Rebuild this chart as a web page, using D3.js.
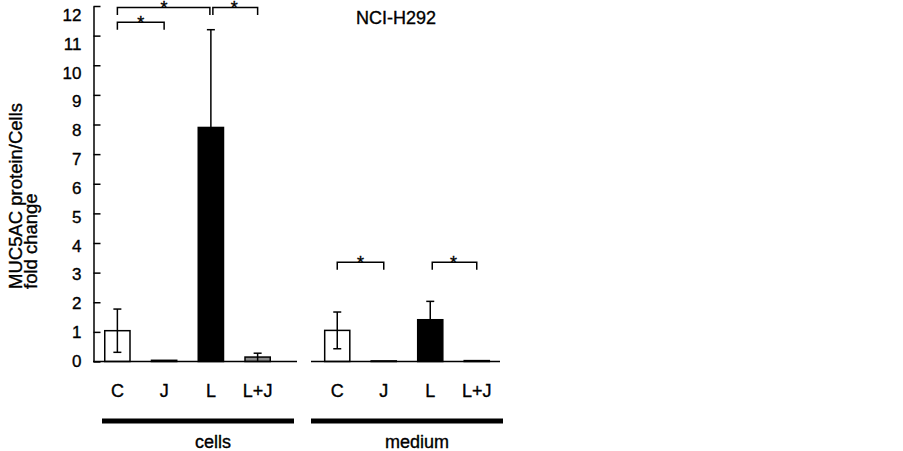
<!DOCTYPE html>
<html>
<head>
<meta charset="utf-8">
<script src="https://cdn.jsdelivr.net/npm/d3@7"></script>
<style>
  body { margin: 0; background: #fff; }
  svg { font-family: "Liberation Sans", Arial, sans-serif; }
  svg text { stroke: #000; stroke-width: 0.35px; }
</style>
</head>
<body>
<svg id="chart"></svg>
<script>
const categories = ["C", "J", "L", "L+J"];
const groups = ["cells", "medium"];
const cellsMean = [1.04, 0.04, 7.9, 0.15];
const cellsErr = [0.73, 0.0, 3.3, 0.13];
const mediumMean = [1.05, 0.02, 1.41, 0.03];
const mediumErr = [0.62, 0.0, 0.62, 0.0];
const barFills = ["#fff", "#777", "#000", "#8c8c8c"];
const yTicks = [0, 1, 2, 3, 4, 5, 6, 7, 8, 9, 10, 11, 12];
// significance brackets: group, from, to, level (fold change)
const brackets = [
  { group: "cells", from: "C", to: "J", level: 11.45 },
  { group: "cells", from: "C", to: "L", level: 11.95 },
  { group: "cells", from: "L", to: "L+J", level: 11.95 },
  { group: "medium", from: "C", to: "J", level: 3.35 },
  { group: "medium", from: "L", to: "L+J", level: 3.35 },
];

const width = 903;
const height = 451;

const svg = d3.select("#chart").attr("width", width).attr("height", height);

const yScale = d3.scaleLinear().domain([0, 12]).range([361.5, 6]);
// labels in the source sit on a slightly tighter spacing than the ticks
const yLabelScale = d3.scaleLinear().domain([0, 12]).range([361, 15]);

const panels = [
  { name: "cells", range: [94, 281], base: [93, 297], rule: [102, 294], mean: cellsMean, err: cellsErr, labelX: 213 },
  { name: "medium", range: [314, 500], base: [311, 500], rule: [311, 503], mean: mediumMean, err: mediumErr, labelX: 417 },
];

panels.forEach((p) => {
  p.x = d3.scaleBand().domain(categories).range(p.range).paddingInner(0.46).paddingOuter(0.23);
});

// y axis
svg.append("g")
  .attr("transform", "translate(93.5,0)")
  .call(d3.axisRight(yScale).tickValues(yTicks).tickSize(7).tickSizeOuter(0).tickFormat(""))
  .call((g) => g.selectAll("path, line").attr("stroke", "#000").attr("stroke-width", 1.5));

svg.append("g")
  .attr("transform", "translate(93.5,0)")
  .call(d3.axisLeft(yLabelScale).tickValues(yTicks).tickSize(0).tickPadding(12).tickFormat(d3.format("d")))
  .call((g) => g.select(".domain").remove())
  .call((g) => g.selectAll("text").attr("font-size", 17).attr("fill", "#000").attr("font-family", "Liberation Sans, Arial, sans-serif"));

// y title
const yTitle = ["MUC5AC protein/Cells", "fold change"];
svg.selectAll(".ytitle")
  .data(yTitle)
  .enter()
  .append("text")
  .attr("class", "ytitle")
  .attr("transform", (d, i) => `translate(${22 + i * 15},289) rotate(-90)`)
  .attr("font-size", 18.5)
  .attr("fill", "#000")
  .text((d) => d);

panels.forEach((p) => {
  const g = svg.append("g");
  const rows = categories.map((c, i) => ({ cat: c, mean: p.mean[i], err: p.err[i], fill: barFills[i] }));

  // bars
  g.selectAll("rect")
    .data(rows)
    .enter()
    .append("rect")
    .attr("x", (d) => p.x(d.cat))
    .attr("width", p.x.bandwidth())
    .attr("y", (d) => yScale(d.mean))
    .attr("height", (d) => yScale(0) - yScale(d.mean))
    .attr("fill", (d) => d.fill)
    .attr("stroke", "#000")
    .attr("stroke-width", 1.5);

  // error bars
  const eb = rows.filter((d) => d.err > 0);
  const cx = (d) => p.x(d.cat) + p.x.bandwidth() / 2;
  g.selectAll(".err")
    .data(eb)
    .enter()
    .append("line")
    .attr("x1", cx).attr("x2", cx)
    .attr("y1", (d) => yScale(Math.max(0, d.mean - d.err)))
    .attr("y2", (d) => yScale(d.mean + d.err))
    .attr("stroke", "#000").attr("stroke-width", 1.5);
  g.selectAll(".capTop")
    .data(eb)
    .enter()
    .append("line")
    .attr("x1", (d) => cx(d) - 4).attr("x2", (d) => cx(d) + 4)
    .attr("y1", (d) => yScale(d.mean + d.err))
    .attr("y2", (d) => yScale(d.mean + d.err))
    .attr("stroke", "#000").attr("stroke-width", 1.5);
  g.selectAll(".capBot")
    .data(eb.filter((d) => d.mean - d.err > 0.05))
    .enter()
    .append("line")
    .attr("x1", (d) => cx(d) - 4).attr("x2", (d) => cx(d) + 4)
    .attr("y1", (d) => yScale(d.mean - d.err))
    .attr("y2", (d) => yScale(d.mean - d.err))
    .attr("stroke", "#000").attr("stroke-width", 1.5);

  // baseline
  g.append("line")
    .attr("x1", p.base[0]).attr("x2", p.base[1])
    .attr("y1", yScale(0)).attr("y2", yScale(0))
    .attr("stroke", "#000").attr("stroke-width", 1.5);

  // category labels
  g.append("g")
    .attr("transform", `translate(0,${yScale(0)})`)
    .call(d3.axisBottom(p.x).tickSize(0).tickPadding(23))
    .call((a) => a.select(".domain").remove())
    .call((a) => a.selectAll("text").attr("font-size", 18).attr("fill", "#000").attr("font-family", "Liberation Sans, Arial, sans-serif"));

  // group rule and label
  g.append("line")
    .attr("x1", p.rule[0]).attr("x2", p.rule[1])
    .attr("y1", 421).attr("y2", 421)
    .attr("stroke", "#000").attr("stroke-width", 5);
  g.append("text")
    .attr("x", p.labelX).attr("y", 448)
    .attr("text-anchor", "middle")
    .attr("font-size", 18)
    .text(p.name);

  // brackets
  const bs = brackets.filter((b) => b.group === p.name);
  const bx = (c) => p.x(c) + p.x.bandwidth() / 2;
  g.selectAll(".bracket")
    .data(bs)
    .enter()
    .append("path")
    .attr("fill", "none")
    .attr("stroke", "#000")
    .attr("stroke-width", 1.5)
    .attr("d", (b) => {
      const x1 = bx(b.from) + (b.from === "L" ? 2 : 0);
      const x2 = bx(b.to) - (b.to === "L" ? 1 : 0);
      const y0 = yScale(b.level);
      const y1 = yScale(b.level - 0.25);
      return `M${x1},${y1}V${y0}H${x2}V${y1}`;
    });
  g.selectAll(".star")
    .data(bs)
    .enter()
    .append("text")
    .attr("x", (b) => (bx(b.from) + bx(b.to)) / 2)
    .attr("y", (b) => yScale(b.level) + 7)
    .attr("text-anchor", "middle")
    .attr("font-size", 18)
    .text("*");
});

// title
svg.append("text")
  .attr("x", 396).attr("y", 24)
  .attr("text-anchor", "middle")
  .attr("font-size", 18)
  .text("NCI-H292");
</script>
</body>
</html>
